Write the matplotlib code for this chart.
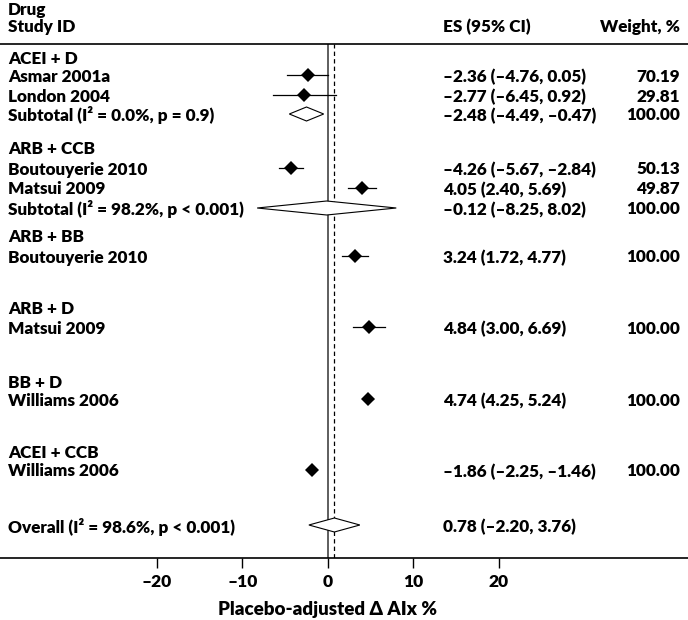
import numpy as np
import matplotlib
matplotlib.use("Agg")
import matplotlib.pyplot as plt
from matplotlib.patches import Polygon

plt.rcParams['font.family'] = ['Lato', 'DejaVu Sans']
WEIGHT = 'heavy'
plt.rcParams['font.weight'] = WEIGHT

# study level data
groups = ["ACEI + D", "ARB + CCB", "ARB + BB", "ARB + D", "BB + D", "ACEI + CCB"]
study_group = [0, 0, 1, 1, 2, 3, 4, 5]
studies = ["Asmar 2001a", "London 2004", "Boutouyerie 2010", "Matsui 2009",
           "Boutouyerie 2010", "Matsui 2009", "Williams 2006", "Williams 2006"]
es = [-2.36, -2.77, -4.26, 4.05, 3.24, 4.84, 4.74, -1.86]
ci_lo = [-4.76, -6.45, -5.67, 2.40, 1.72, 3.00, 4.25, -2.25]
ci_hi = [0.05, 0.92, -2.84, 5.69, 4.77, 6.69, 5.24, -1.46]
weight = [70.19, 29.81, 50.13, 49.87, 100.00, 100.00, 100.00, 100.00]

# subtotals (only groups with more than one study)
sub_group = [0, 1]
sub_es = [-2.48, -0.12]
sub_lo = [-4.49, -8.25]
sub_hi = [-0.47, 8.02]
sub_i2 = [0.0, 98.2]
sub_p = ["p = 0.9", "p < 0.001"]
sub_weight = [100.00, 100.00]

overall_es, overall_lo, overall_hi = 0.78, -2.20, 3.76
overall_i2, overall_p = 98.6, "p < 0.001"

xticks = [-20, -10, 0, 10, 20]

# layout: vertical pixel position of each row (top = 0)
group_y = [57, 148, 236, 308, 381, 452]
study_y = [75, 95, 168, 188, 256, 327, 399, 470]
sub_y = [114, 208]
overall_y = 525

W, H = 688, 620
ax_top, ax_bot = 44, 557.5
px0, px_per_unit = 327.7, 8.55

fig = plt.figure(figsize=(W / 100, H / 100), dpi=100)
ax = fig.add_axes([0, 1 - ax_bot / H, 1, (ax_bot - ax_top) / H])
ax.set_xlim(-px0 / px_per_unit, (W - px0) / px_per_unit)
ax.set_ylim(ax_bot, ax_top)

for s in ['left', 'right']:
    ax.spines[s].set_visible(False)
ax.spines['top'].set_linewidth(1.2)
ax.spines['bottom'].set_linewidth(1.2)
ax.set_yticks([])
ax.set_xticks(xticks)
ax.set_xticklabels([str(t).replace('-', '\u2013') for t in xticks])
ax.tick_params(axis='x', length=7, width=1, labelsize=12.5, pad=5)
for lab in ax.get_xticklabels():
    lab.set_fontweight(WEIGHT)
ax.set_xlabel('Placebo-adjusted \u0394 AIx %', fontsize=13.5, fontweight=WEIGHT)
ax.xaxis.set_label_coords(px0 / W, -0.085)

# reference lines
ax.axvline(0, color='#333333', lw=1.1)
ax.axvline(overall_es, color='black', lw=0.9, ls=(0, (3.5, 2.5)))

fs = 12.3
x_lab = -(px0 - 8) / px_per_unit
x_es = (443 - px0) / px_per_unit
x_w = (680 - px0) / px_per_unit
dy = 1.5


def txt(x, y, s, ha='left'):
    ax.text(x, y + dy, s, ha=ha, va='center', fontsize=fs, fontweight=WEIGHT,
            clip_on=False)


def fmt(v):
    return f"{v:.2f}".replace('-', '\u2013')


# header
txt(x_lab, 10 - dy, "Drug")
txt(x_lab, 27 - dy, "Study ID")
txt(x_es, 27 - dy, "ES (95% CI)")
txt(x_w, 27 - dy, "Weight, %", ha='right')

for g, y in zip(groups, group_y):
    txt(x_lab, y, g)

for i in range(len(studies)):
    y = study_y[i]
    ax.plot([ci_lo[i], ci_hi[i]], [y, y], color='black', lw=0.9)
    ax.plot(es[i], y, marker='D', color='black', ms=6.7, mew=0)
    txt(x_lab, y, studies[i])
    txt(x_es, y, f"{fmt(es[i])} ({fmt(ci_lo[i])}, {fmt(ci_hi[i])})")
    txt(x_w, y, f"{weight[i]:.2f}", ha='right')


def diamond(c, lo, hi, y, h=7):
    ax.add_patch(Polygon([[lo, y], [c, y - h], [hi, y], [c, y + h]], closed=True,
                         facecolor='white', edgecolor='black', lw=0.8, zorder=3))


for k in range(len(sub_group)):
    y = sub_y[k]
    diamond(sub_es[k], sub_lo[k], sub_hi[k], y)
    txt(x_lab, y, f"Subtotal (I\u00b2 = {sub_i2[k]:.1f}%, {sub_p[k]})")
    txt(x_es, y, f"{fmt(sub_es[k])} ({fmt(sub_lo[k])}, {fmt(sub_hi[k])})")
    txt(x_w, y, f"{sub_weight[k]:.2f}", ha='right')

diamond(overall_es, overall_lo, overall_hi, overall_y)
txt(x_lab, overall_y, f"Overall (I\u00b2 = {overall_i2:.1f}%, {overall_p})")
txt(x_es, overall_y, f"{fmt(overall_es)} ({fmt(overall_lo)}, {fmt(overall_hi)})")

fig.savefig("out.png", dpi=100)
